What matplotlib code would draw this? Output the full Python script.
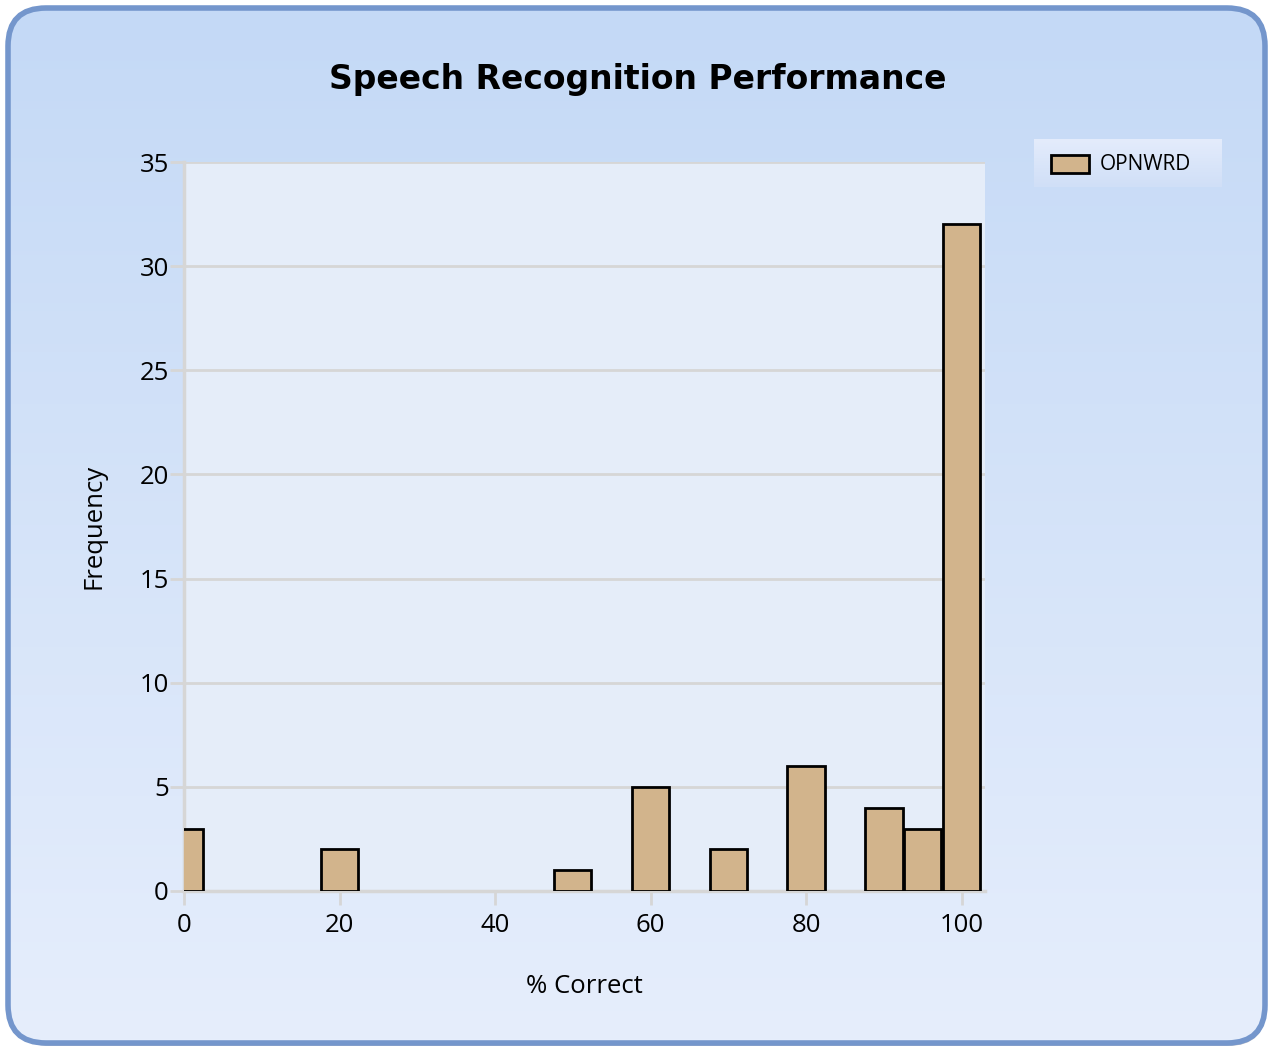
#!/usr/bin/env python3

import numpy as np
import matplotlib
matplotlib.use("Agg")
import matplotlib.pyplot as plt
from matplotlib.patches import FancyBboxPatch, Rectangle

# --- data ---
pct_correct = [0, 20, 50, 60, 70, 80, 90, 95, 100]
frequency = [3, 2, 1, 5, 2, 6, 4, 3, 32]
series_name = 'OPNWRD'
x_ticks = [0, 20, 40, 60, 80, 100]
y_ticks = [0, 5, 10, 15, 20, 25, 30, 35]

W, H = 1274, 1051
fig = plt.figure(figsize=(W / 100, H / 100), dpi=100)

# --- background panel with rounded border ---
bg = fig.add_axes([0, 0, 1, 1])
bg.set_xlim(0, W)
bg.set_ylim(H, 0)
bg.axis('off')

# drop shadow
shadow = FancyBboxPatch((12, 12), W - 20, H - 17, boxstyle="round,pad=0,rounding_size=38",
                        facecolor='#b9bec8', edgecolor='none', zorder=0)
bg.add_patch(shadow)

panel = FancyBboxPatch((8, 8), W - 17, H - 16, boxstyle="round,pad=0,rounding_size=38",
                       facecolor='none', edgecolor='#7496cc', linewidth=4, zorder=3)
bg.add_patch(panel)

grad = np.linspace(0, 1, 256).reshape(-1, 1)
top = np.array([0xc4, 0xd9, 0xf6]) / 255
bot = np.array([0xe6, 0xee, 0xfc]) / 255
img = top + (bot - top) * grad[:, :, None]
im = bg.imshow(img, extent=[8, W - 9, H - 8, 8], aspect='auto', zorder=1)
clip = FancyBboxPatch((8, 8), W - 17, H - 16, boxstyle="round,pad=0,rounding_size=38",
                      facecolor='none', edgecolor='none', transform=bg.transData)
bg.add_patch(clip)
im.set_clip_path(clip)

# --- plot ---
ax = fig.add_axes([184 / W, 1 - 891 / H, (985 - 184) / W, (891 - 162) / H])
ax.set_facecolor('#e5edf9')
ax.bar(pct_correct, frequency, width=4.8, color='#d2b48c', edgecolor='black',
       linewidth=2, zorder=3, label=series_name)

ax.set_xlim(0, 103)
ax.set_ylim(0, 35)
ax.set_xticks(x_ticks)
ax.set_yticks(y_ticks)
ax.grid(axis='y', color='#d6d6d6', linewidth=2, zorder=0)
for s in ['top', 'right']:
    ax.spines[s].set_visible(False)
for s in ['left', 'bottom']:
    ax.spines[s].set_color('#d6d6d6')
    ax.spines[s].set_linewidth(2.5)
ax.tick_params(colors='#d6d6d6', labelcolor='black', labelsize=18.5, width=2, length=10)
ax.tick_params(axis='y', pad=1)
ax.tick_params(axis='x', pad=6)
for lab in ax.get_xticklabels() + ax.get_yticklabels():
    lab.set_family('Open Sans')

ax.set_xlabel('% Correct', fontsize=18.5, family='Open Sans', labelpad=26)
ax.set_ylabel('Frequency', fontsize=18.5, family='Open Sans', labelpad=24)

fig.text(638 / W, 1 - 80 / H, 'Speech Recognition Performance', ha='center', va='center',
         fontsize=23.8, fontweight='bold', family='DejaVu Sans')

# --- legend ---
leg_bg = np.linspace(0, 1, 64).reshape(-1, 1)
leg_top = np.array([0xe4, 0xec, 0xfc]) / 255
leg_bot = np.array([0xd0, 0xdf, 0xf7]) / 255
leg_img = leg_top + (leg_bot - leg_top) * leg_bg[:, :, None]
bg.imshow(leg_img, extent=[1034, 1222, 187, 139], aspect='auto', zorder=4)
bg.add_patch(Rectangle((1051, 155), 38, 18, facecolor='#d2b48c', edgecolor='black',
                       linewidth=2, zorder=5))
bg.text(1100, 164, series_name, va='center', ha='left', fontsize=15, family='Open Sans', zorder=5)
bg.set_xlim(0, W)
bg.set_ylim(H, 0)

plt.savefig('out.png', dpi=100)
